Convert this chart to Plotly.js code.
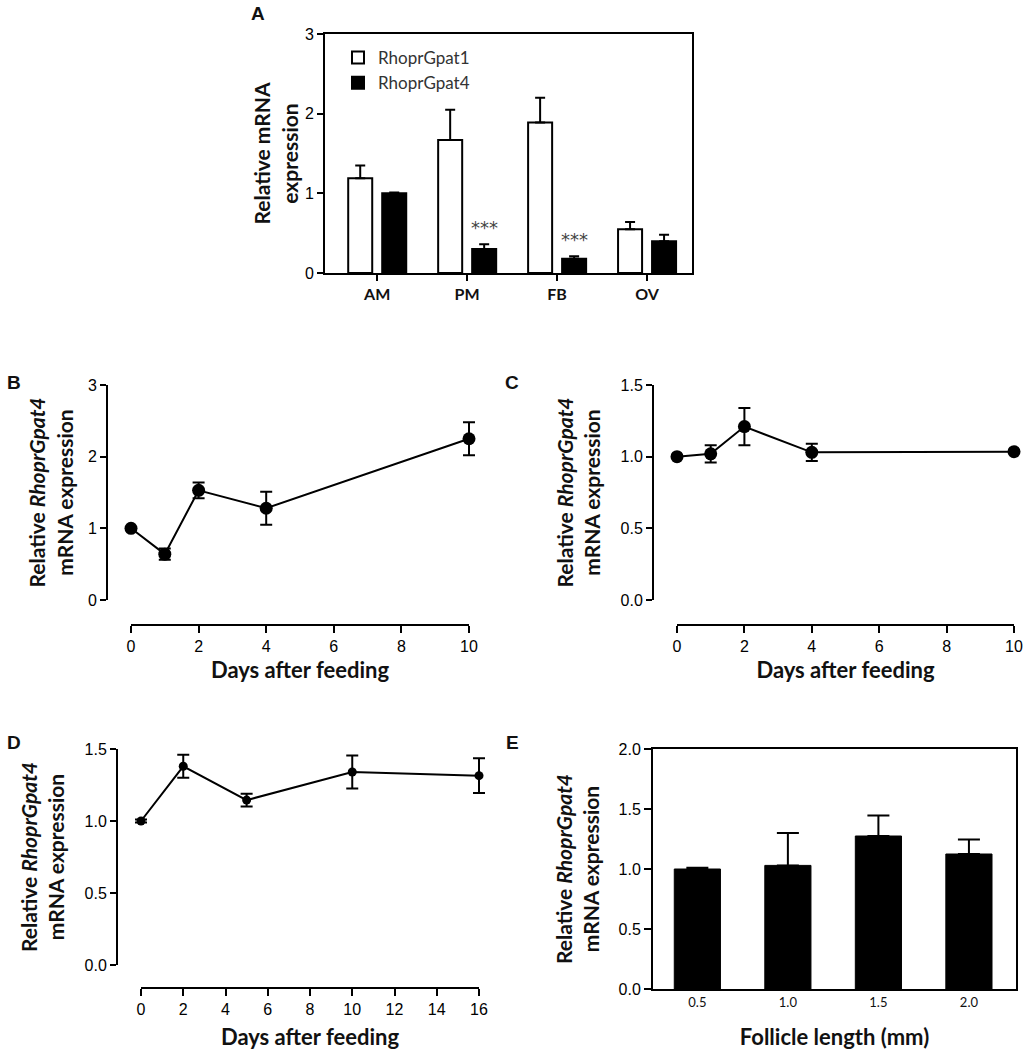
<!DOCTYPE html>
<html><head><meta charset="utf-8">
<script src="https://cdn.plot.ly/plotly-3.0.1.min.js"></script>
<style>html,body{margin:0;padding:0;background:#fff}</style>
</head><body><div id="chart" style="width:1025px;height:1050px"></div>
<script>
// Panel A
const tissues = ['AM', 'PM', 'FB', 'OV'];
const gpat1 = [1.19, 1.67, 1.89, 0.55];
const gpat1Err = [0.16, 0.38, 0.31, 0.09];
const gpat4 = [1.00, 0.30, 0.18, 0.40];
const gpat4Err = [0.01, 0.06, 0.03, 0.08];
const sigLabels = ['', '***', '***', ''];
// Panel B
const daysB = [0, 1, 2, 4, 10];
const exprB = [1.00, 0.64, 1.53, 1.28, 2.25];
const errB = [0.02, 0.08, 0.11, 0.23, 0.23];
// Panel C
const daysC = [0, 1, 2, 4, 10];
const exprC = [1.00, 1.02, 1.21, 1.03, 1.035];
const errC = [0.01, 0.06, 0.13, 0.06, 0.01];
// Panel D
const daysD = [0, 2, 5, 10, 16];
const exprD = [1.00, 1.38, 1.145, 1.34, 1.315];
const errD = [0.01, 0.08, 0.045, 0.115, 0.12];
// Panel E
const follicle = ['0.5', '1.0', '1.5', '2.0'];
const exprE = [1.00, 1.03, 1.275, 1.125];
const errE = [0.01, 0.27, 0.17, 0.12];

// axis extents (tick range) of the time-course panels
const dayAxisB = [0, 10];
const dayAxisC = [0, 10];
const dayAxisD = [0, 16];

const W = 1025, H = 1050;
const fx = px => px / W;
const fy = py => 1 - py / H;
const zeros = n => new Array(n).fill(0);

const NUM = {family: 'Liberation Sans, Arial, sans-serif', size: 16, color: '#000'};
const TITLE = {family: 'Lato, sans-serif', size: 22, color: '#111', weight: 'bold'};
const YTITLE = {family: 'Lato, sans-serif', size: 21, color: '#111', weight: 'bold'};
const LBL = {family: 'Lato, sans-serif', size: 16, color: '#111', weight: 'bold'};

function errUp(arr, w) {
  return {type: 'data', symmetric: false, array: arr, arrayminus: zeros(arr.length),
          color: '#000', thickness: 2, width: w};
}
function errSym(arr, w) {
  return {type: 'data', array: arr, color: '#000', thickness: 2, width: w};
}

const traces = [
  {type: 'bar', name: 'RhoprGpat1', x: tissues, y: gpat1, xaxis: 'x', yaxis: 'y',
   width: 0.267, offset: -0.322,
   marker: {color: '#fff', line: {color: '#000', width: 2}},
   error_y: errUp(gpat1Err, 5)},
  {type: 'bar', name: 'RhoprGpat4', x: tissues, y: gpat4, xaxis: 'x', yaxis: 'y',
   width: 0.267, offset: 0.056,
   marker: {color: '#000', line: {color: '#000', width: 2}},
   error_y: errUp(gpat4Err, 5)},
  {type: 'scatter', mode: 'lines+markers', x: daysB, y: exprB, xaxis: 'x2', yaxis: 'y2',
   showlegend: false, cliponaxis: false,
   marker: {color: '#000', size: 13}, line: {color: '#000', width: 2},
   error_y: errSym(errB, 6)},
  {type: 'scatter', mode: 'lines+markers', x: daysC, y: exprC, xaxis: 'x3', yaxis: 'y3',
   showlegend: false, cliponaxis: false,
   marker: {color: '#000', size: 13}, line: {color: '#000', width: 2},
   error_y: errSym(errC, 6)},
  {type: 'scatter', mode: 'lines+markers', x: daysD, y: exprD, xaxis: 'x4', yaxis: 'y4',
   showlegend: false, cliponaxis: false,
   marker: {color: '#000', size: 9}, line: {color: '#000', width: 2},
   error_y: errSym(errD, 6)},
  {type: 'bar', x: follicle, y: exprE, xaxis: 'x5', yaxis: 'y5', showlegend: false,
   width: 0.51, marker: {color: '#000', line: {color: '#000', width: 1}},
   error_y: errUp(errE, 11)}
];

const baseAxis = {showline: true, linecolor: '#000', linewidth: 2, showgrid: false,
  zeroline: false, ticks: 'outside', ticklen: 6, tickwidth: 2, tickcolor: '#000',
  tickfont: NUM, fixedrange: true};

const yTitle2 = 'Relative <i>RhoprGpat4</i><br>mRNA expression';

// x axes of time-course panels: line drawn as a shape from first to last tick,
// range padded so the end error-bar caps are not clipped
function dayAxis(px0, px1, ext, posPx, dtick, standoff) {
  const pad = 0.3 * dtick / 2;
  const ppu = (px1 - px0) / (ext[1] - ext[0]);
  return Object.assign({}, baseAxis, {
    domain: [fx(px0 - pad * ppu), fx(px1 + pad * ppu)], anchor: 'free',
    position: fy(posPx), range: [ext[0] - pad, ext[1] + pad], dtick: dtick, tick0: 0,
    ticklen: 7, showline: false,
    title: {text: 'Days after feeding', font: TITLE, standoff: standoff}});
}

const layout = {
  width: W, height: H, margin: {l: 0, r: 0, t: 0, b: 0},
  paper_bgcolor: '#fff', plot_bgcolor: 'rgba(0,0,0,0)',
  barmode: 'overlay',
  font: {family: 'Lato, sans-serif', color: '#111'},
  showlegend: true,
  legend: {x: fx(338), y: fy(40), xanchor: 'left', yanchor: 'top',
    bgcolor: 'rgba(0,0,0,0)', font: {family: 'Lato, sans-serif', size: 17, color: '#333'},
    traceorder: 'normal'},
  // Panel A
  xaxis: Object.assign({}, baseAxis, {domain: [fx(325), fx(692)], anchor: 'y', type: 'category',
    range: [-0.58, 3.5], mirror: true, tickfont: LBL}),
  yaxis: Object.assign({}, baseAxis, {domain: [fy(273), fy(34)], anchor: 'x', range: [0, 3],
    dtick: 1, mirror: true,
    title: {text: 'Relative mRNA<br>expression', font: YTITLE, standoff: 1}}),
  // Panel B
  xaxis2: dayAxis(131, 469, dayAxisB, 625, 2, 8),
  yaxis2: Object.assign({}, baseAxis, {domain: [fy(600), fy(385)], anchor: 'free',
    position: fx(107), range: [0, 3], dtick: 1,
    title: {text: yTitle2, font: YTITLE, standoff: 8}}),
  // Panel C
  xaxis3: dayAxis(677, 1014, dayAxisC, 625, 2, 8),
  yaxis3: Object.assign({}, baseAxis, {domain: [fy(600), fy(385)], anchor: 'free',
    position: fx(653), range: [0, 1.5], dtick: 0.5, tickformat: '.1f',
    title: {text: yTitle2, font: YTITLE, standoff: 13}}),
  // Panel D
  xaxis4: dayAxis(141, 479, dayAxisD, 988, 2, 12),
  yaxis4: Object.assign({}, baseAxis, {domain: [fy(965), fy(749)], anchor: 'free',
    position: fx(117), range: [0, 1.5], dtick: 0.5, tickformat: '.1f',
    title: {text: yTitle2, font: YTITLE, standoff: 13}}),
  // Panel E
  xaxis5: Object.assign({}, baseAxis, {domain: [fx(653), fx(1016)], anchor: 'y5', type: 'category',
    range: [-0.49, 3.52], mirror: true, ticks: '',
    tickfont: {family: 'Lato, sans-serif', size: 13, color: '#111'},
    title: {text: 'Follicle length (mm)', font: TITLE, standoff: 23}}),
  yaxis5: Object.assign({}, baseAxis, {domain: [fy(989), fy(749)], anchor: 'x5', range: [0, 2],
    dtick: 0.5, tickformat: '.1f', mirror: true, ticklen: 7,
    title: {text: yTitle2, font: YTITLE, standoff: 13}}),
  annotations: [],
  shapes: []
};

// x axis lines of the time-course panels (from first to last tick)
[['x2', dayAxisB, 625], ['x3', dayAxisC, 625], ['x4', dayAxisD, 988]].forEach(([ax, ext, py]) => {
  layout.shapes.push({type: 'line', xref: ax, yref: 'paper', x0: ext[0], x1: ext[1],
    y0: fy(py), y1: fy(py), line: {color: '#000', width: 2}});
});

// significance stars above RhoprGpat4 bars
tissues.forEach((t, i) => {
  if (sigLabels[i]) {
    layout.annotations.push({x: t, y: gpat4[i] + gpat4Err[i], xref: 'x', yref: 'y',
      text: sigLabels[i], showarrow: false, xshift: 17, yshift: 4, yanchor: 'bottom',
      font: {family: 'DejaVu Sans, sans-serif', size: 18, color: '#444'}});
  }
});

// panel letters
const panelLetters = ['A', 'B', 'C', 'D', 'E'];
const letterX = [258, 14, 512, 14, 512];
const letterY = [13, 382, 382, 742, 742];
panelLetters.forEach((L, i) => {
  layout.annotations.push({x: fx(letterX[i]), y: fy(letterY[i]), xref: 'paper', yref: 'paper',
    text: '<b>' + L + '</b>', showarrow: false, xanchor: 'center', yanchor: 'middle',
    font: {family: 'Liberation Sans, Arial, sans-serif', size: 19, color: '#111'}});
});

Plotly.newPlot('chart', traces, layout, {displayModeBar: false, staticPlot: true});
</script>
</body></html>
